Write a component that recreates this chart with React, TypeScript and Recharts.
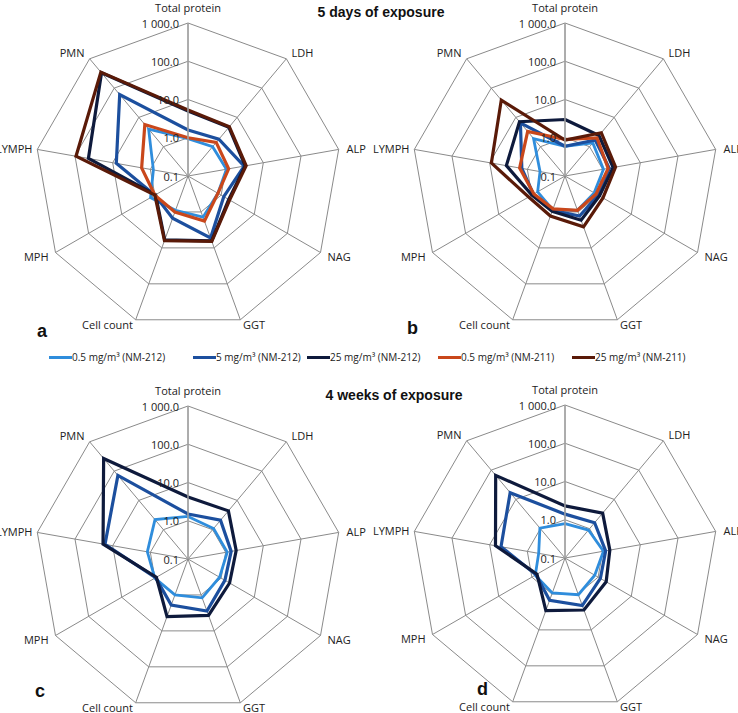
import React from "react";
import {
  RadarChart,
  Radar,
  PolarGrid,
  PolarAngleAxis,
  PolarRadiusAxis,
} from "recharts";

const categories = [
  "Total protein",
  "LDH",
  "ALP",
  "NAG",
  "GGT",
  "Cell count",
  "MPH",
  "LYMPH",
  "PMN",
];

const radiusTicks = [0.1, 1, 10, 100, 1000];

// 5 days of exposure
const a_05_212 = [0.95, 1.0, 1.05, 0.8, 1.4, 0.9, 1.35, 0.83, 4.0];
const a_5_212 = [1.6, 1.8, 3.1, 1.2, 5.3, 1.5, 1.0, 8, 60];
const a_25_212 = [5.0, 4.6, 3.3, 1.7, 6.4, 6.0, 0.95, 44, 330];
const a_05_211 = [1.0, 1.4, 1.2, 0.8, 1.8, 1.0, 1.0, 1.7, 5.7];
const a_25_211 = [5.3, 4.8, 3.5, 1.8, 6.6, 6.3, 1.0, 94, 350];

const b_05_212 = [0.6, 1.35, 1.05, 0.76, 0.9, 0.87, 0.67, 0.46, 1.9];
const b_5_212 = [0.6, 1.7, 1.5, 1.0, 1.3, 0.9, 0.9, 1.4, 6.5];
const b_25_212 = [3.0, 2.4, 1.9, 1.1, 1.7, 0.96, 1.0, 3.6, 7.1];
const b_05_211 = [0.9, 2.0, 1.4, 0.87, 0.9, 0.82, 0.87, 1.6, 3.3];
const b_25_211 = [0.87, 3.0, 2.2, 1.4, 2.6, 1.3, 1.25, 9, 39];

// 4 weeks of exposure
const c_05_212 = [1.3, 1.1, 1.1, 0.9, 1.2, 1.0, 1.0, 1.2, 2.2];
const c_5_212 = [1.5, 2.1, 1.4, 1.3, 2.8, 1.9, 0.95, 16, 71];
const c_25_212 = [4.2, 4.4, 1.9, 1.8, 3.7, 4.0, 0.9, 18, 270];

const d_05_212 = [0.79, 0.9, 1.05, 0.79, 1.05, 0.94, 0.79, 0.5, 1.05];
const d_5_212 = [1.4, 1.6, 1.2, 1.17, 2.1, 1.5, 0.75, 5, 17];
const d_25_212 = [2.3, 3.4, 1.55, 1.75, 2.8, 2.9, 0.7, 7, 66];

const series = [
  { key: "s05_212", name: "0.5 mg/m³ (NM-212)", color: "#2f8ddc" },
  { key: "s5_212", name: "5 mg/m³ (NM-212)", color: "#1c4f9e" },
  { key: "s25_212", name: "25 mg/m³ (NM-212)", color: "#0e1a3c" },
  { key: "s05_211", name: "0.5 mg/m³ (NM-211)", color: "#c9471b" },
  { key: "s25_211", name: "25 mg/m³ (NM-211)", color: "#5a1a08" },
];

const legendX = [49, 193, 307, 438, 572];

function buildRows(cols: Record<string, number[]>) {
  return categories.map((axis, i) => {
    const row: Record<string, string | number> = { axis };
    Object.keys(cols).forEach((k) => {
      row[k] = cols[k][i];
    });
    return row;
  });
}

const panelA = buildRows({
  s05_212: a_05_212,
  s5_212: a_5_212,
  s25_212: a_25_212,
  s05_211: a_05_211,
  s25_211: a_25_211,
});
const panelB = buildRows({
  s05_212: b_05_212,
  s5_212: b_5_212,
  s25_212: b_25_212,
  s05_211: b_05_211,
  s25_211: b_25_211,
});
const panelC = buildRows({ s05_212: c_05_212, s5_212: c_5_212, s25_212: c_25_212 });
const panelD = buildRows({ s05_212: d_05_212, s5_212: d_5_212, s25_212: d_25_212 });

const FONT = "'Open Sans', sans-serif";

// label nudges per spoke, to sit like the original
const tickDy = [-8, 0, 0, 0, -3, -3, 0, 0, 0];
const tickDx = [0, 0, 0, 0, 0, 0, 0, 3, 0];

const AngleTick = (props: any) => {
  const { x, y, textAnchor, payload, index } = props;
  return (
    <text
      x={x + (tickDx[index] || 0)}
      y={y + (tickDy[index] || 0)}
      textAnchor={textAnchor}
      dominantBaseline="central"
      fontSize={11}
      fontFamily={FONT}
      fill="#222"
    >
      {payload.value}
    </text>
  );
};

const fmtTick = (v: number) => (v >= 1000 ? "1 000.0" : v.toFixed(1));

const RadiusTick = (props: any) => {
  const { x, y, payload } = props;
  return (
    <text
      x={x - 9}
      y={y}
      textAnchor="end"
      dominantBaseline="central"
      fontSize={11}
      fontFamily={FONT}
      fill="#222"
    >
      {fmtTick(payload.value)}
    </text>
  );
};

function Panel({
  data,
  keys,
  left,
  top,
  cx,
  cy,
}: {
  data: Record<string, string | number>[];
  keys: string[];
  left: number;
  top: number;
  cx: number;
  cy: number;
}) {
  return (
    <div style={{ position: "absolute", left, top }}>
      <RadarChart
        width={369}
        height={356}
        data={data}
        cx={cx}
        cy={cy}
        outerRadius={153}
        margin={{ top: 0, right: 0, bottom: 0, left: 0 }}
      >
        <PolarGrid gridType="polygon" stroke="#8a8a8a" strokeWidth={1} />
        <PolarAngleAxis dataKey="axis" tick={AngleTick} tickLine={false} axisLine={false} />
        <PolarRadiusAxis
          angle={90}
          scale="log"
          domain={[0.1, 1000]}
          ticks={radiusTicks as any}
          tick={RadiusTick}
          tickLine={false}
          axisLine={{ stroke: "#a5a5a5", strokeWidth: 1.5 }}
          allowDataOverflow
        />
        {series
          .filter((s) => keys.includes(s.key))
          .map((s) => (
            <Radar
              key={s.key}
              dataKey={s.key}
              name={s.name}
              stroke={s.color}
              strokeWidth={s.key === "s05_212" ? 2.8 : 3.2}
              fill="none"
              fillOpacity={0}
              dot={false}
              isAnimationActive={false}
            />
          ))}
      </RadarChart>
    </div>
  );
}

const letterStyle: React.CSSProperties = {
  position: "absolute",
  fontFamily: "'Liberation Sans', Arial, sans-serif",
  fontWeight: 700,
  fontSize: 18,
  lineHeight: "18px",
  color: "#111",
};

const titleStyle: React.CSSProperties = {
  position: "absolute",
  fontFamily: "'Liberation Sans', Arial, sans-serif",
  fontWeight: 700,
  fontSize: 14,
  lineHeight: "16px",
  color: "#111",
  whiteSpace: "nowrap",
  transform: "translateX(-50%)",
};

export default function App() {
  const allKeys = series.map((s) => s.key);
  const blueKeys = ["s05_212", "s5_212", "s25_212"];
  return (
    <div style={{ position: "relative", width: 738, height: 713, background: "#fff", overflow: "hidden" }}>
      <style>{"body{margin:0}"}</style>
      <Panel data={panelA} keys={allKeys} left={0} top={0} cx={188} cy={176} />
      <Panel data={panelB} keys={allKeys} left={369} top={0} cx={196} cy={176} />
      <Panel data={panelC} keys={blueKeys} left={0} top={357} cx={188} cy={202} />
      <Panel data={panelD} keys={blueKeys} left={369} top={357} cx={196} cy={201} />

      <div style={{ ...titleStyle, left: 381, top: 4 }}>5 days of exposure</div>
      <div style={{ ...titleStyle, left: 394, top: 387 }}>4 weeks of exposure</div>

      <div style={{ ...letterStyle, left: 37, top: 322 }}>a</div>
      <div style={{ ...letterStyle, left: 407, top: 319 }}>b</div>
      <div style={{ ...letterStyle, left: 35, top: 682 }}>c</div>
      <div style={{ ...letterStyle, left: 477, top: 680 }}>d</div>

      {series.map((s, i) => (
        <div
          key={s.key}
          style={{
            position: "absolute",
            left: legendX[i],
            top: 350,
            height: 14,
            display: "flex",
            alignItems: "center",
            fontFamily: FONT,
            fontSize: 10,
            color: "#222",
            whiteSpace: "nowrap",
          }}
        >
          <span style={{ display: "inline-block", width: 23, height: 3, background: s.color }} />
          <span>{s.name}</span>
        </div>
      ))}
    </div>
  );
}
